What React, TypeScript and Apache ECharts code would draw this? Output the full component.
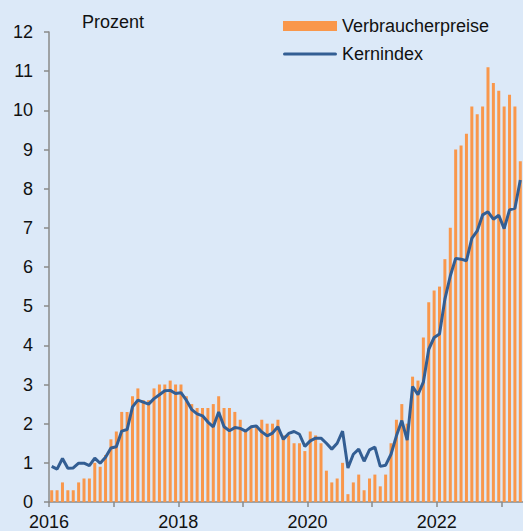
import React, { useEffect, useRef } from "react";
import * as echarts from "echarts";

// Monthly, Jan 2016 – Apr 2023
const startYear = 2016;
const verbraucherpreise = [
  0.3, 0.3, 0.5, 0.3, 0.3, 0.5, 0.6, 0.6, 1.0, 0.9, 1.2, 1.6,
  1.8, 2.3, 2.3, 2.7, 2.9, 2.6, 2.6, 2.9, 3.0, 3.0, 3.1, 3.0,
  3.0, 2.7, 2.5, 2.4, 2.4, 2.4, 2.5, 2.7, 2.4, 2.4, 2.3, 2.1,
  1.8, 1.9, 1.9, 2.1, 2.0, 2.0, 2.1, 1.7, 1.7, 1.5, 1.5, 1.3,
  1.8, 1.7, 1.5, 0.8, 0.5, 0.6, 1.0, 0.2, 0.5, 0.7, 0.3, 0.6,
  0.7, 0.4, 0.7, 1.5, 2.1, 2.5, 2.0, 3.2, 3.1, 4.2, 5.1, 5.4,
  5.5, 6.2, 7.0, 9.0, 9.1, 9.4, 10.1, 9.9, 10.1, 11.1, 10.7, 10.5,
  10.1, 10.4, 10.1, 8.7,
];
const kernindex = [
  0.91, 0.84, 1.11, 0.86, 0.87, 0.99, 0.99, 0.93, 1.12, 0.99, 1.14, 1.38,
  1.41, 1.81, 1.85, 2.43, 2.6, 2.55, 2.5, 2.64, 2.74, 2.84, 2.85, 2.77,
  2.79, 2.6, 2.36, 2.25, 2.2, 2.04, 1.92, 2.3, 1.92, 1.82, 1.9, 1.88,
  1.81, 1.92, 1.94, 1.79, 1.69, 1.76, 1.92, 1.6, 1.75, 1.8, 1.73, 1.42,
  1.56, 1.63, 1.63, 1.5, 1.35, 1.5, 1.81, 0.87, 1.22, 1.35, 1.04, 1.33,
  1.4, 0.91, 0.94, 1.22, 1.69, 2.08, 1.58, 2.95, 2.74, 3.06, 3.9, 4.2,
  4.29, 5.18, 5.77, 6.22, 6.2, 6.16, 6.73, 6.92, 7.33, 7.41, 7.22, 7.32,
  6.98, 7.46, 7.5, 8.22,
];
const yTicks = [0, 12];

const FONT = "'Liberation Sans', Arial, sans-serif";

export default function App() {
  const ref = useRef<HTMLDivElement>(null);
  useEffect(() => {
    if (!ref.current) return;
    const chart = echarts.init(ref.current, undefined, { renderer: "svg" });
    const months = verbraucherpreise.length;
    chart.setOption({
      animation: false,
      backgroundColor: "#DCE9F8",
      textStyle: { fontFamily: FONT },
      grid: { left: 49, right: -3, top: 32, bottom: 28, containLabel: false },
      legend: {
        orient: "vertical",
        left: 278,
        top: 12,
        itemWidth: 54,
        itemHeight: 10,
        itemGap: 10,
        symbolKeepAspect: true,
        textStyle: { fontSize: 18, color: "#111", fontFamily: FONT },
        data: [
          { name: "Verbraucherpreise", icon: "rect" },
          {
            name: "Kernindex",
            icon: "path://M1.5,0 L52.5,0 A1.5,1.5 0 0 1 52.5,3 L1.5,3 A1.5,1.5 0 0 1 1.5,0 Z",
          },
        ],
      },
      graphic: [
        {
          type: "text",
          left: 82,
          top: 13,
          style: { text: "Prozent", fontSize: 18, fill: "#111", fontFamily: FONT },
        },
      ],
      xAxis: {
        type: "value",
        min: 0,
        max: months,
        interval: 12,
        splitLine: { show: false },
        axisLine: { show: true, lineStyle: { color: "#8a8a8a", width: 1.5 } },
        axisTick: { show: true, length: 5, lineStyle: { color: "#8a8a8a", width: 1.5 } },
        axisLabel: {
          fontSize: 18,
          color: "#111",
          margin: 11,
          showMaxLabel: false,
          formatter: (v: number) => (v % 24 === 0 ? String(startYear + v / 12) : ""),
        },
      },
      yAxis: {
        type: "value",
        min: yTicks[0],
        max: yTicks[1],
        interval: 1,
        splitLine: { show: false },
        axisLine: { show: true, lineStyle: { color: "#8a8a8a", width: 1.5 } },
        axisTick: { show: true, length: 5, lineStyle: { color: "#8a8a8a", width: 1.5 } },
        axisLabel: { fontSize: 18, color: "#111", margin: 16 },
      },
      series: [
        {
          name: "Verbraucherpreise",
          type: "bar",
          barWidth: 3,
          itemStyle: { color: "#F9974B" },
          data: verbraucherpreise.map((v, i) => [i + 0.5, v]),
          z: 2,
        },
        {
          name: "Kernindex",
          type: "line",
          symbol: "none",
          lineStyle: { color: "#335E93", width: 3 },
          itemStyle: { color: "#335E93" },
          data: kernindex.map((v, i) => [i + 0.5, v]),
          z: 3,
        },
      ],
    });
    return () => chart.dispose();
  }, []);
  return (
    <div
      ref={ref}
      style={{ position: "fixed", left: 0, top: 0, width: 523, height: 531 }}
    />
  );
}
